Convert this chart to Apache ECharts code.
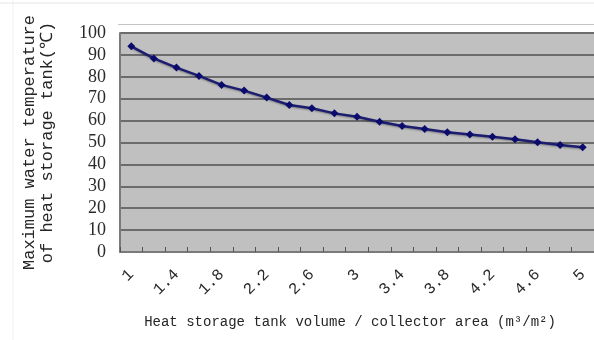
<!DOCTYPE html>
<html>
<head>
<meta charset="utf-8">
<script src="https://cdn.jsdelivr.net/npm/echarts@6/dist/echarts.min.js"></script>
<style>html,body{margin:0;padding:0;background:#fff;}#c{width:594px;height:340px;}</style>
</head>
<body>
<div id="c"></div>
<script>
var categories = ['1','1.2','1.4','1.6','1.8','2','2.2','2.4','2.6','2.8','3','3.2','3.4','3.6','3.8','4','4.2','4.4','4.6','4.8','5'];
var temperatures = [93.9,88.4,84.2,80.4,76.3,73.7,70.5,67.1,65.6,63.3,61.8,59.5,57.5,56.2,54.7,53.7,52.6,51.5,50.1,48.9,47.8];
var yTicks = {min: 0, max: 100, interval: 10};
var xTitle = 'Heat storage tank volume / collector area (m\u00b3/m\u00b2)';
var yTitle = 'Maximum water temperature\nof heat storage tank(\u2103)';

var chart = echarts.init(document.getElementById('c'), null, {renderer: 'canvas'});
chart.setOption({
  animation: false,
  backgroundColor: '#ffffff',
  graphic: [
    {type: 'line', shape: {x1: 0, y1: 3, x2: 594, y2: 3}, style: {stroke: '#e4e4e4', lineWidth: 1}, z: -1},
    {type: 'line', shape: {x1: 13, y1: 0, x2: 13, y2: 340}, style: {stroke: '#f0f0f0', lineWidth: 1}, z: -1},
    {type: 'line', shape: {x1: 118, y1: 24.5, x2: 594, y2: 24.5}, style: {stroke: '#c4c4c4', lineWidth: 1}, z: -1}
  ],
  grid: {
    left: 120, top: 33, width: 481, height: 219,
    show: true, backgroundColor: '#c0c0c0', borderWidth: 0
  },
  xAxis: {
    type: 'category',
    data: categories,
    boundaryGap: true,
    name: xTitle,
    nameLocation: 'middle',
    nameGap: 63,
    nameTextStyle: {fontFamily: 'Liberation Mono', fontSize: 14, color: '#262626', padding: [0, 14, 0, 0]},
    axisLine: {lineStyle: {color: '#7a7a7a', width: 2}},
    axisTick: {show: true, inside: true, length: 5, interval: 0, lineStyle: {color: '#555', width: 1}},
    axisLabel: {
      interval: 1, rotate: 45, margin: 20,
      fontFamily: 'Liberation Mono', fontSize: 16, color: '#2a2a2a'
    },
    splitLine: {show: false}
  },
  yAxis: {
    type: 'value',
    min: yTicks.min, max: yTicks.max, interval: yTicks.interval,
    name: yTitle,
    nameLocation: 'middle',
    nameGap: 64,
    nameTextStyle: {fontFamily: 'Liberation Mono', fontSize: 17, lineHeight: 18, color: '#262626'},
    axisLine: {show: true, lineStyle: {color: '#7a7a7a', width: 2}},
    axisTick: {show: false},
    axisLabel: {margin: 14, fontFamily: 'Liberation Serif', fontSize: 18, color: '#2a2a2a'},
    splitLine: {show: true, lineStyle: {color: '#6c6c6c', width: 2}}
  },
  series: [{
    type: 'line',
    data: temperatures,
    symbol: 'diamond',
    symbolSize: 8,
    lineStyle: {color: '#1c1c70', width: 2.5, shadowColor: 'rgba(0,0,0,0.35)', shadowBlur: 2, shadowOffsetY: 1},
    itemStyle: {color: '#0b0b6e'},
    z: 5
  }]
});
</script>
</body>
</html>
